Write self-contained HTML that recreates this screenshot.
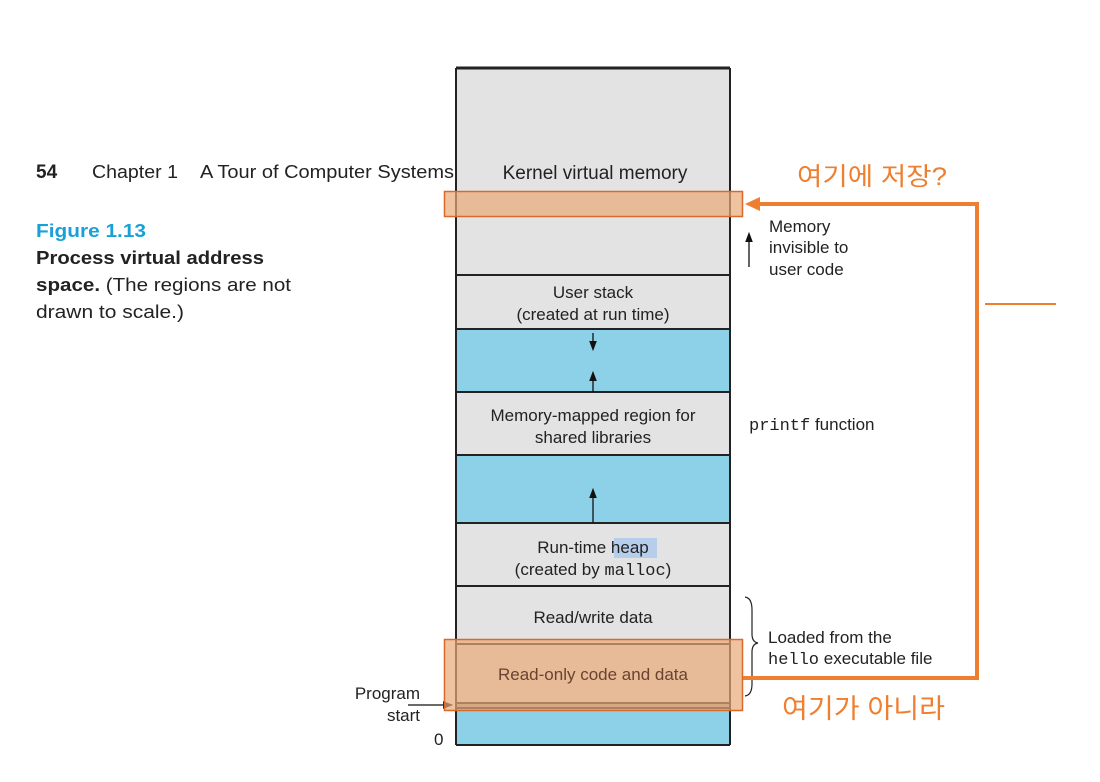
<!DOCTYPE html>
<html><head><meta charset="utf-8"><style>
body{margin:0;background:#fff;}
svg{display:block}
text{font-family:"Liberation Sans","Noto Sans CJK KR",sans-serif;}
.m{font-family:"Liberation Mono",monospace;}
</style></head><body>
<svg width="1100" height="782" viewBox="0 0 1100 782" xmlns="http://www.w3.org/2000/svg">
<defs><marker id="a" markerWidth="8" markerHeight="8" refX="4" refY="4" orient="auto"><path d="M0,1 L8,4 L0,7Z" fill="#111"/></marker></defs>
<!-- left text -->
<text x="36" y="178" font-size="19" font-weight="bold" fill="#222">54</text>
<text x="92" y="178" font-size="18" fill="#222" textLength="86" lengthAdjust="spacingAndGlyphs">Chapter 1</text>
<text x="200" y="178" font-size="18" fill="#222" textLength="254" lengthAdjust="spacingAndGlyphs">A Tour of Computer Systems</text>
<text x="36" y="237" font-size="18" font-weight="bold" fill="#1aa0d8" textLength="110" lengthAdjust="spacingAndGlyphs">Figure 1.13</text>
<text x="36" y="264" font-size="18" font-weight="bold" fill="#222" textLength="228" lengthAdjust="spacingAndGlyphs">Process virtual address</text>
<text x="36" y="291" font-size="18" fill="#222" textLength="255" lengthAdjust="spacingAndGlyphs"><tspan font-weight="bold">space.</tspan> (The regions are not</text>
<text x="36" y="318" font-size="18" fill="#222" textLength="148" lengthAdjust="spacingAndGlyphs">drawn to scale.)</text>
<!-- column -->
<rect x="456" y="68" width="274" height="677" fill="#e3e3e3"/>
<rect x="456" y="329" width="274" height="63" fill="#8dd1e8"/>
<rect x="456" y="455" width="274" height="68" fill="#8dd1e8"/>
<rect x="456" y="703" width="274" height="5" fill="#a8a8a0"/>
<rect x="456" y="708" width="274" height="37" fill="#8dd1e8"/>
<rect x="614" y="538" width="43" height="20" fill="#b7cdec"/>
<g stroke="#222" stroke-width="2" fill="none">
<line x1="456" y1="68" x2="730" y2="68" stroke-width="3"/>
<line x1="456" y1="68" x2="456" y2="745"/>
<line x1="730" y1="68" x2="730" y2="745"/>
<line x1="456" y1="745" x2="730" y2="745"/>
<line x1="456" y1="275" x2="730" y2="275"/>
<line x1="456" y1="329" x2="730" y2="329"/>
<line x1="456" y1="392" x2="730" y2="392"/>
<line x1="456" y1="455" x2="730" y2="455"/>
<line x1="456" y1="523" x2="730" y2="523"/>
<line x1="456" y1="586" x2="730" y2="586"/>
<line x1="456" y1="644" x2="730" y2="644"/>
<line x1="456" y1="703" x2="730" y2="703"/>
<line x1="456" y1="708" x2="730" y2="708"/>
</g>
<g stroke="#111" stroke-width="1.3">
<line x1="593" y1="333" x2="593" y2="346" marker-end="url(#a)"/>
<line x1="593" y1="392" x2="593" y2="376" marker-end="url(#a)"/>
<line x1="593" y1="523" x2="593" y2="493" marker-end="url(#a)"/>
<line x1="749" y1="267" x2="749" y2="237" marker-end="url(#a)"/>
<line x1="408" y1="705" x2="448" y2="705" marker-end="url(#a)"/>
</g>
<g font-size="17" fill="#222" text-anchor="middle">
<text x="595" y="179" font-size="19">Kernel virtual memory</text>
<text x="593" y="298">User stack</text>
<text x="593" y="320">(created at run time)</text>
<text x="593" y="421">Memory-mapped region for</text>
<text x="593" y="443">shared libraries</text>
<text x="593" y="553">Run-time heap</text>
<text x="593" y="575">(created by <tspan class="m">malloc</tspan>)</text>
<text x="593" y="623">Read/write data</text>
</g>
<g font-size="17" fill="#222">
<text x="769" y="232">Memory</text>
<text x="769" y="253">invisible to</text>
<text x="769" y="275">user code</text>
<text x="749" y="430"><tspan class="m">printf</tspan> function</text>
<text x="768" y="643">Loaded from the</text>
<text x="768" y="664"><tspan class="m">hello</tspan> executable file</text>
<text x="420" y="699" text-anchor="end">Program</text>
<text x="420" y="721" text-anchor="end">start</text>
<text x="434" y="745">0</text>
</g>
<path d="M745,597 Q752,598 752,610 L752,634 Q752,642 758,643 Q752,644 752,652 L752,684 Q752,695 745,696" fill="none" stroke="#222" stroke-width="1.2"/>
<!-- orange overlays -->
<rect x="444.5" y="191.5" width="298" height="25" fill="#e8a878" fill-opacity="0.7" stroke="#d9692a" stroke-width="1.5"/>
<rect x="444.5" y="639.5" width="298" height="71" fill="#e8a878" fill-opacity="0.7" stroke="#d9692a" stroke-width="1.5"/>
<text x="593" y="680" font-size="17" fill="#6a4330" text-anchor="middle">Read-only code and data</text>
<polyline points="743,678 977,678 977,204 758,204" fill="none" stroke="#ef7f30" stroke-width="4"/>
<path d="M745,204 L760,197 L760,211Z" fill="#ef7f30"/>
<line x1="985" y1="304" x2="1056" y2="304" stroke="#ef7f30" stroke-width="2"/>
<text x="797" y="185" font-size="25" fill="#ef7f30" textLength="150" lengthAdjust="spacingAndGlyphs">여기에 저장?</text>
<text x="782" y="718" font-size="27" fill="#ef7f30" textLength="163" lengthAdjust="spacingAndGlyphs">여기가 아니라</text>
</svg>
</body></html>
